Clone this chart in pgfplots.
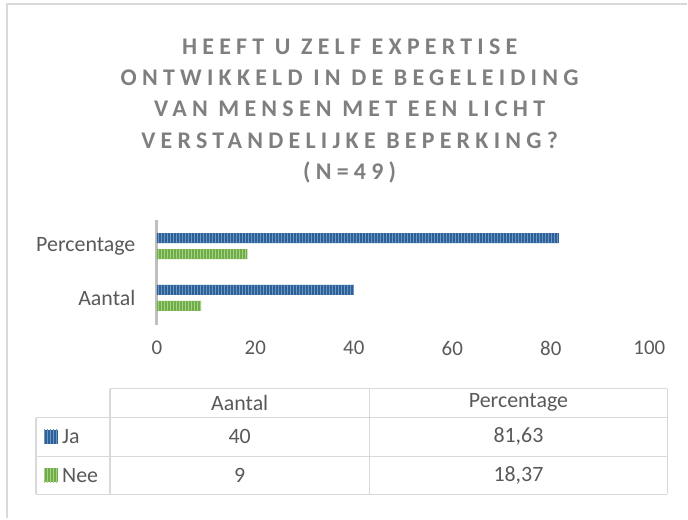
\documentclass[border=0pt]{standalone}
\usepackage{fontspec}
\setmainfont{Carlito}
\newfontfamily\titlefont[LetterSpace=22]{Carlito}
\usepackage{pgfplots}
\pgfplotsset{compat=1.18}
\usetikzlibrary{patterns.meta}
\definecolor{jablue}{RGB}{46,96,152}
\definecolor{jastripe}{RGB}{110,150,195}
\definecolor{neegreen}{RGB}{112,173,71}
\definecolor{neestripe}{RGB}{165,208,135}
\definecolor{txt}{RGB}{89,89,89}
\definecolor{ttl}{RGB}{127,127,127}
\definecolor{rule}{RGB}{217,217,217}
\definecolor{axisgray}{RGB}{191,191,191}

\begin{document}
\begin{tikzpicture}[x=1bp,y=1bp]
  \path (0,0) rectangle (688,519);
  \draw[rule, line width=1.5bp] (7,0) -- (7,515) -- (688,515);

  % title
  \node[align=center, text=ttl, font=\titlefont\bfseries\fontsize{24}{31.5}\selectfont]
    at (350,408) {HEEFT U ZELF EXPERTISE\\ONTWIKKELD IN DE BEGELEIDING\\VAN MENSEN MET EEN LICHT\\VERSTANDELIJKE BEPERKING?\\(N=49)};

  \begin{axis}[
    at={(157bp,194bp)}, anchor=south west,
    scale only axis, width=493bp, height=105bp,
    xbar, bar width=10bp,
    xmin=0, xmax=100, ymin=-0.52, ymax=1.51,
    axis lines*=left,
    x axis line style={draw=none},
    y axis line style={draw=axisgray, line width=3bp, -},
    xtick={0,20,...,100},
    ytick={0,1}, yticklabels={Aantal,Percentage},
    major tick length=0pt,
    tick label style={font=\fontsize{21}{24}\selectfont, text=txt},
    yticklabel style={font=\fontsize{22}{24}\selectfont, xshift=-18bp},
    /pgf/number format/assume math mode=true,
    xticklabel style={yshift=-13bp},
  ]
    \addplot[fill=jablue, draw=none, bar shift=8bp,
      postaction={pattern={Lines[angle=90, distance=3bp, line width=1bp]}, pattern color=jastripe}]
      coordinates {(40,0) (81.63,1)};
    \addplot[fill=neegreen, draw=none, bar shift=-8bp,
      postaction={pattern={Lines[angle=90, distance=3bp, line width=1bp]}, pattern color=neestripe}]
      coordinates {(9,0) (18.37,1)};
  \end{axis}

  % data table
  \begin{scope}[rule, line width=1.5bp]
    \draw (110,130) -- (668,130);
    \draw (36,101) -- (668,101);
    \draw (36,62) -- (668,62);
    \draw (36,24) -- (668,24);
    \draw (36,101) -- (36,24);
    \draw (110,130) -- (110,24);
    \draw (370,130) -- (370,24);
    \draw (668,130) -- (668,24);
  \end{scope}
  \begin{scope}[every node/.style={text=txt, font=\fontsize{22}{24}\selectfont}]
    \node at (240,116) {Aantal};
    \node at (519,116) {Percentage};
    \node at (240,82) {40};
    \node at (519,82) {81,63};
    \node at (240,43) {9};
    \node at (519,43) {18,37};
    \node[anchor=west, inner sep=0pt] at (62,82) {Ja};
    \node[anchor=west, inner sep=0pt] at (62,43) {Nee};
  \end{scope}
  \fill[jablue] (44,75) rectangle (58,89);
  \pattern[pattern={Lines[angle=90, distance=3bp, line width=1bp]}, pattern color=jastripe] (44,75) rectangle (58,89);
  \fill[neegreen] (44,36) rectangle (58,50);
  \pattern[pattern={Lines[angle=90, distance=3bp, line width=1bp]}, pattern color=neestripe] (44,36) rectangle (58,50);
\end{tikzpicture}
\end{document}
